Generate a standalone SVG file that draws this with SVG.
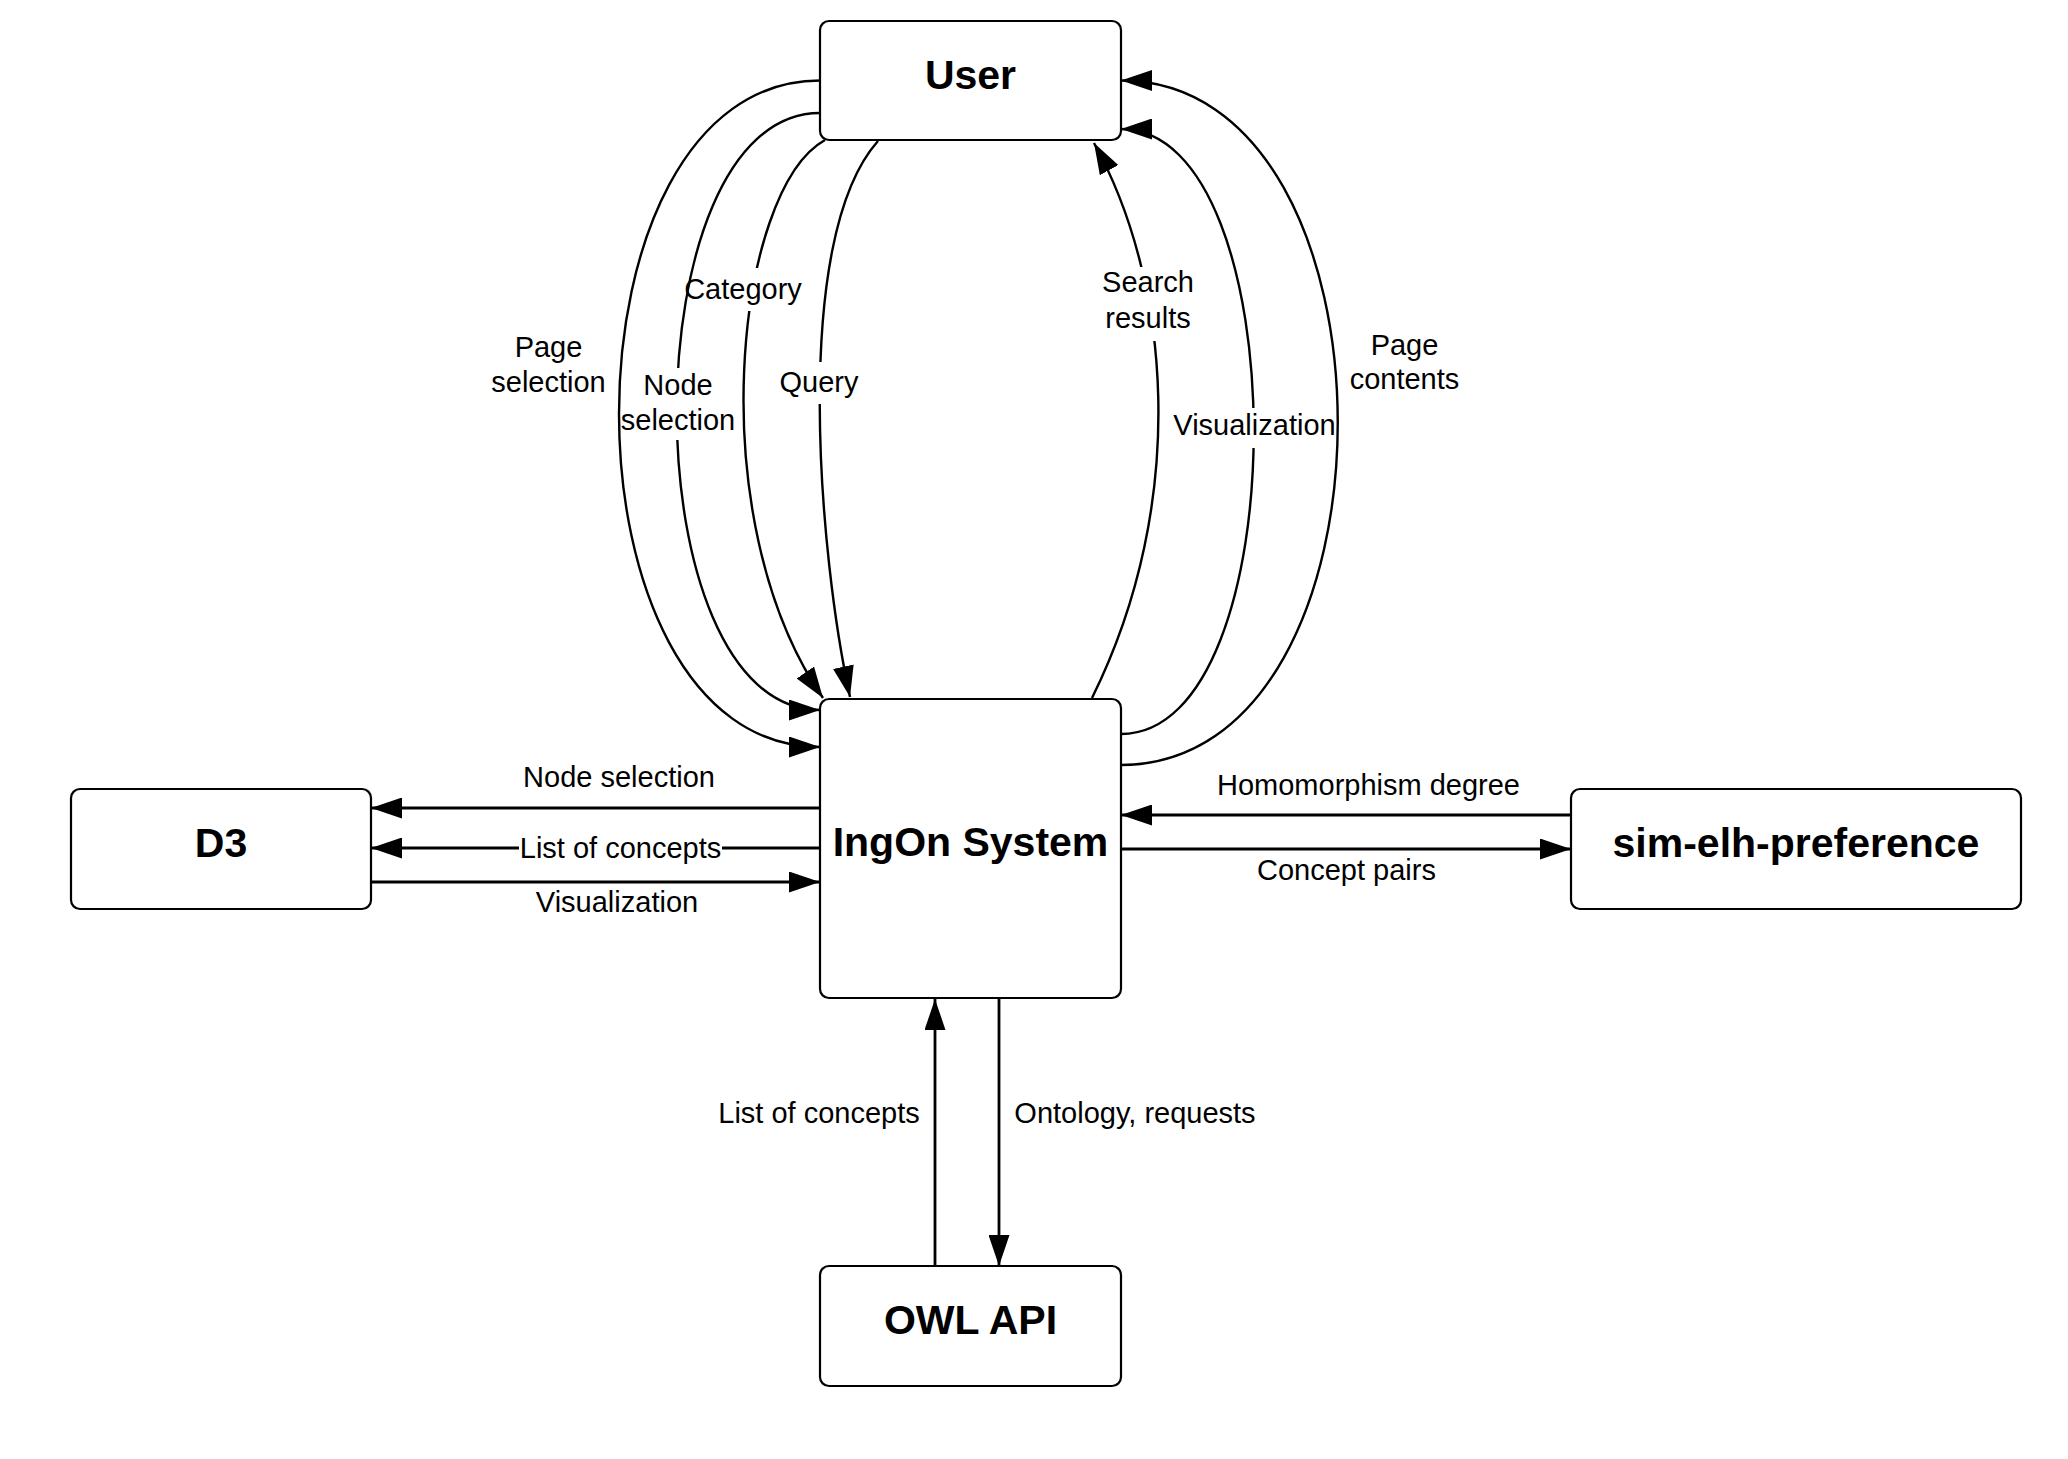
<svg xmlns="http://www.w3.org/2000/svg" width="2068" height="1459" viewBox="0 0 2068 1459">
<style>
.box{fill:#fff;stroke:#000;stroke-width:2.2}
.title{font-family:"Liberation Sans",Arial,sans-serif;font-weight:bold;font-size:41px;text-anchor:middle;fill:#000}
.lbl{font-family:"Liberation Sans",Arial,sans-serif;font-size:29px;text-anchor:middle;fill:#000}
.line{fill:none;stroke:#000;stroke-width:2.8}
.curve{fill:none;stroke:#000;stroke-width:2.4}
.bg{fill:#fff}
</style>
<defs>
<marker id="arr" markerUnits="userSpaceOnUse" markerWidth="31" markerHeight="21" refX="31" refY="10.5" orient="auto" viewBox="0 0 31 21">
<path d="M0,0 L31,10.5 L0,21 Z" fill="#000"/>
</marker>
</defs>
<rect width="2068" height="1459" fill="#fff"/>
<g id="connectors">
<path class="curve" d="M820,80.5 C552,80.5 552,747 820,747" marker-end="url(#arr)"/>
<path class="curve" d="M820,113 C629,113 629,710 820,710" marker-end="url(#arr)"/>
<path class="curve" d="M825,140 C735,190 700,520 823,698" marker-end="url(#arr)"/>
<path class="curve" d="M878,141 C790,240 820,560 850,697" marker-end="url(#arr)"/>
<path class="curve" d="M1092,698 C1190,500 1170,280 1094,143" marker-end="url(#arr)"/>
<path class="curve" d="M1121,734 C1298,734 1298,129 1121,129" marker-end="url(#arr)"/>
<path class="curve" d="M1121,765 C1410,765 1410,80.5 1121,80.5" marker-end="url(#arr)"/>
<path class="line" d="M820,808 L371,808" marker-end="url(#arr)"/>
<path class="line" d="M820,848 L371,848" marker-end="url(#arr)"/>
<path class="line" d="M371,882 L820,882" marker-end="url(#arr)"/>
<path class="line" d="M1571,815 L1121,815" marker-end="url(#arr)"/>
<path class="line" d="M1121,849 L1571,849" marker-end="url(#arr)"/>
<path class="line" d="M935,1266 L935,999" marker-end="url(#arr)"/>
<path class="line" d="M999,999 L999,1266" marker-end="url(#arr)"/>
</g>
<g id="labels">
<rect class="bg" x="628" y="368" width="100" height="72"/>
<rect class="bg" x="700" y="268" width="95" height="43"/>
<rect class="bg" x="782" y="362" width="74" height="42"/>
<rect class="bg" x="1104" y="267" width="88" height="74"/>
<rect class="bg" x="1200" y="408" width="110" height="40"/>
<rect class="bg" x="519" y="838" width="203" height="20"/>
<text class="lbl" x="548.5" y="357">Page</text>
<text class="lbl" x="548.5" y="392">selection</text>
<text class="lbl" x="678" y="395">Node</text>
<text class="lbl" x="678" y="430">selection</text>
<text class="lbl" x="743" y="299">Category</text>
<text class="lbl" x="819" y="392">Query</text>
<text class="lbl" x="1148" y="292">Search</text>
<text class="lbl" x="1148" y="327.5">results</text>
<text class="lbl" x="1254.5" y="435">Visualization</text>
<text class="lbl" x="1404.5" y="354.5">Page</text>
<text class="lbl" x="1404.5" y="389">contents</text>
<text class="lbl" x="619" y="787">Node selection</text>
<text class="lbl" x="620.5" y="858">List of concepts</text>
<text class="lbl" x="617" y="912">Visualization</text>
<text class="lbl" x="1368.5" y="795">Homomorphism degree</text>
<text class="lbl" x="1346.5" y="880">Concept pairs</text>
<text class="lbl" x="819" y="1123">List of concepts</text>
<text class="lbl" x="1135" y="1123">Ontology, requests</text>
</g>
<g id="user"><rect class="box" x="820" y="21" width="301" height="119" rx="9"/><text class="title" x="970.5" y="89">User</text></g>
<g id="ingon"><rect class="box" x="820" y="699" width="301" height="299" rx="9"/><text class="title" x="970.5" y="856">IngOn System</text></g>
<g id="d3"><rect class="box" x="71" y="789" width="300" height="120" rx="9"/><text class="title" x="221" y="857">D3</text></g>
<g id="sim"><rect class="box" x="1571" y="789" width="450" height="120" rx="9"/><text class="title" x="1796" y="857">sim-elh-preference</text></g>
<g id="owl"><rect class="box" x="820" y="1266" width="301" height="120" rx="9"/><text class="title" x="970.5" y="1334">OWL API</text></g>
</svg>
